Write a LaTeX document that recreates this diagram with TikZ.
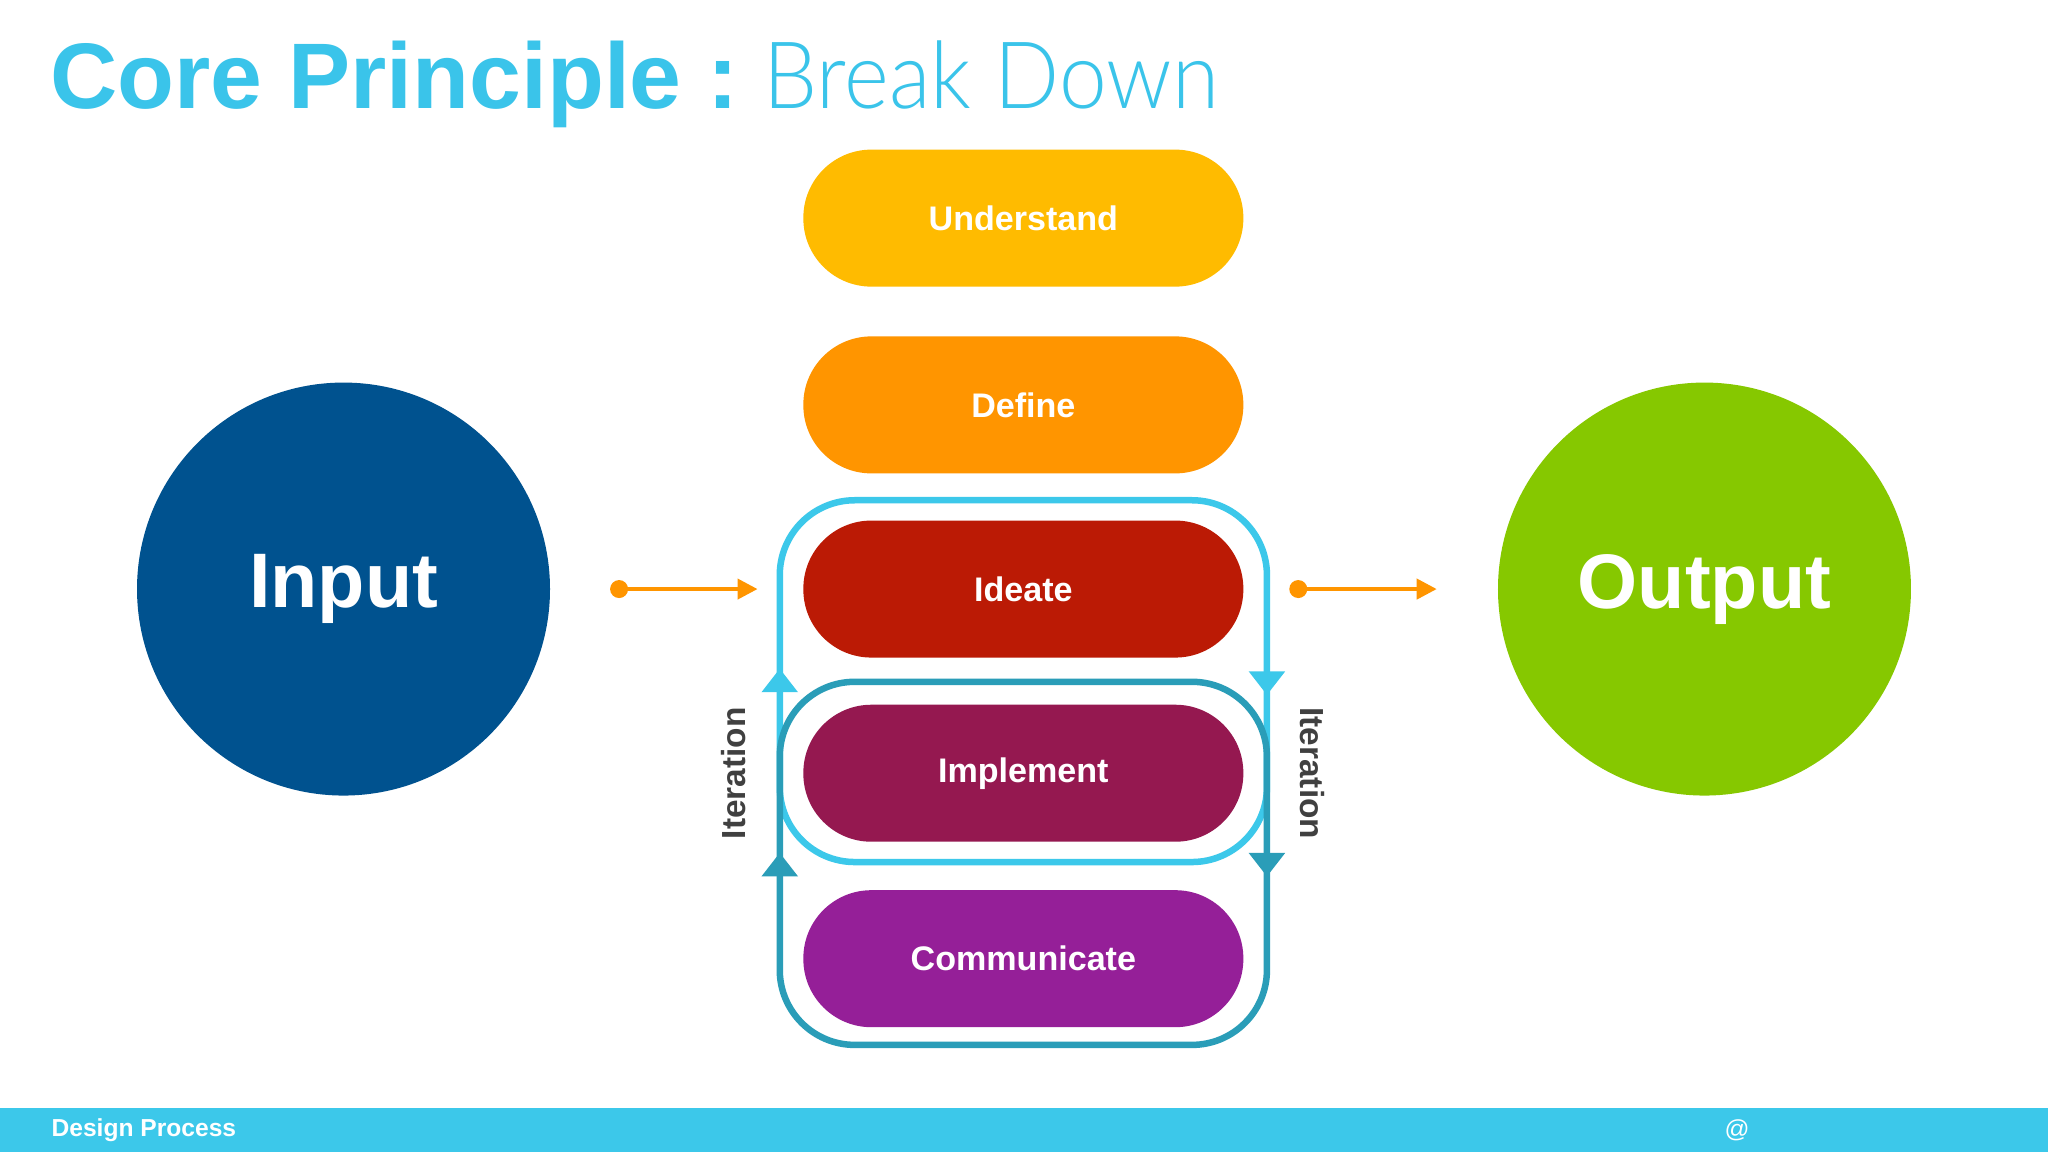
\documentclass[tikz,border=0pt]{standalone}
\usepackage{fontspec}
\usepackage{graphicx}
\setmainfont{Liberation Sans}
\newfontfamily\thinf{Lato Light}
\usetikzlibrary{arrows.meta}
\definecolor{ttl}{HTML}{3AC4EA}
\definecolor{cUnd}{HTML}{FFBB00}
\definecolor{cDef}{HTML}{FF9500}
\definecolor{cIde}{HTML}{BB1A05}
\definecolor{cImp}{HTML}{951850}
\definecolor{cCom}{HTML}{951F98}
\definecolor{cIn}{HTML}{00528F}
\definecolor{cOut}{HTML}{86C800}
\definecolor{lb}{HTML}{3CC8EA}
\definecolor{tb}{HTML}{2A9DB8}
\definecolor{org}{HTML}{FF9500}
\begin{document}
\begin{tikzpicture}[x=0.013061cm,y=-0.013061cm,
  pill/.style={rounded corners=0.68cm,minimum width=4.4cm,minimum height=1.37cm,text=white,font=\bfseries\fontsize{9.7}{12}\selectfont},
  circ/.style={circle,minimum size=4.13cm,text=white,font=\bfseries\fontsize{22}{26}\selectfont},
  loop/.style={line width=0.065cm,rounded corners=0.75cm},
  iter/.style={text=black!75,font=\bfseries\fontsize{9.5}{11}\selectfont},
  oarr/.style={org,line width=0.04cm,-{Triangle[length=0.2cm,width=0.2cm]}}]
\useasboundingbox (0,0) rectangle (1568,882);
\fill[white] (0,0) rectangle (1568,882);
\node[anchor=base west,inner sep=0,text=ttl] (title) at (38,83) {\fontsize{26.5}{30}\selectfont\bfseries Core Principle :\hspace{0.25cm}\scalebox{0.92}[1]{\thinf\mdseries Break Down}};
% loops
\draw[loop,lb] (597,383) rectangle (970,660);
\draw[loop,tb] (597,522) rectangle (970,800);
\node[pill,fill=cUnd] (und) at (783.5,167) {Understand};
\node[pill,fill=cDef] (def) at (783.5,310) {Define};
\node[pill,fill=cIde] (ide) at (783.5,451) {Ideate};
\node[pill,fill=cImp] (imp) at (783.5,592) {Implement};
\node[pill,fill=cCom] (com) at (783.5,734) {Communicate};
% arrowheads on loops
\fill[lb] (583,530) -- (611,530) -- (597,512) -- cycle;
\fill[lb] (956,514) -- (984,514) -- (970,532) -- cycle;
\fill[tb] (583,671) -- (611,671) -- (597,653) -- cycle;
\fill[tb] (956,653) -- (984,653) -- (970,671) -- cycle;
\node[iter,rotate=90] (itl) at (562,592) {Iteration};
\node[iter,rotate=-90] (itr) at (1005,592) {Iteration};
\node[circ,fill=cIn] (in) at (263,451) {Input};
\node[circ,fill=cOut] (out) at (1305,451) {Output};
\coordinate (a1) at (474,451); \coordinate (a2) at (580,451);
\coordinate (b1) at (994,451); \coordinate (b2) at (1100,451);
\fill[org] (a1) circle (0.09cm); \fill[org] (b1) circle (0.09cm);
\draw[oarr] (a1) -- (a2);
\draw[oarr] (b1) -- (b2);
% footer
\fill[lb] (0,848) rectangle (1568,882);
\node[anchor=west,text=white,font=\bfseries\fontsize{7}{8}\selectfont] (foot) at (30,865) {Design Process};
\node[text=white,font=\fontsize{7}{8}\selectfont] (at) at (1330,865) {@};
\end{tikzpicture}
\end{document}
